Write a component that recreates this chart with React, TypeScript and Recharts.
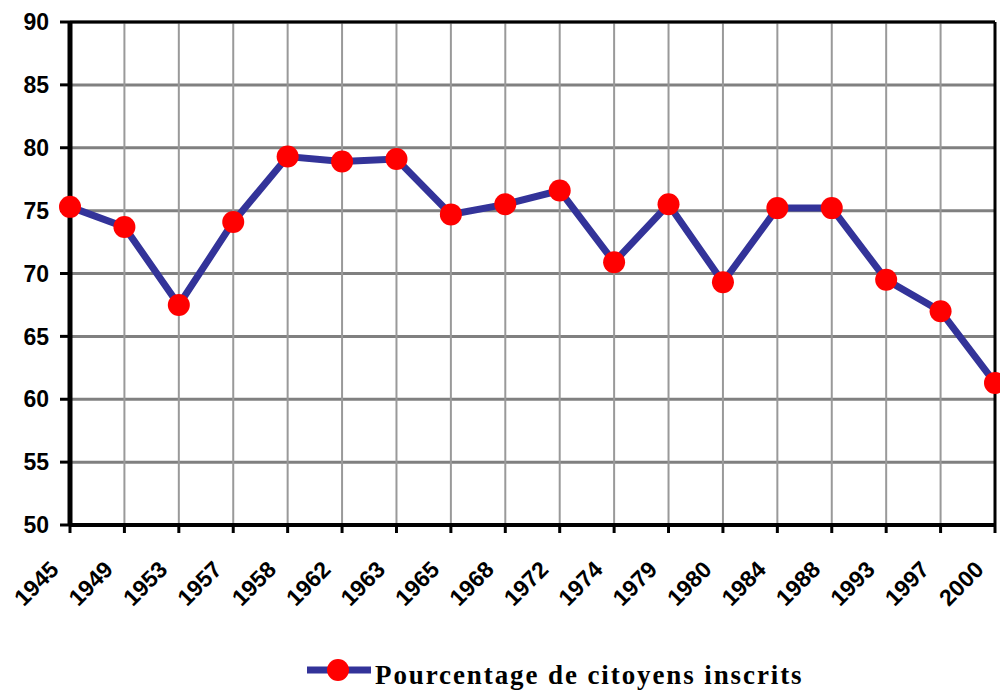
import React from 'react';
import { LineChart, Line, XAxis, YAxis, CartesianGrid, ReferenceLine, Legend } from 'recharts';

const years = ['1945','1949','1953','1957','1958','1962','1963','1965','1968','1972','1974','1979','1980','1984','1988','1993','1997','2000'];
const values = [75.3,73.7,67.5,74.1,79.3,78.9,79.1,74.7,75.5,76.6,70.9,75.5,69.3,75.2,75.2,69.5,67.0,61.3];
const yTicks = [50,55,60,65,70,75,80,85,90];
const seriesName = 'Pourcentage de citoyens inscrits';

const data = years.map((y, i) => ({ year: y, value: values[i] }));

const XTick = (props: any) => {
  const { x, payload } = props;
  return (
    <g transform={`translate(${x - 10},${571})`}>
      <text x={0} y={0} textAnchor="end" transform="rotate(-45)"
        fontFamily="'Liberation Sans', Arial, sans-serif" fontWeight="bold" fontSize={23} fill="#000">
        {payload.value}
      </text>
    </g>
  );
};

const LegendContent = () => (
  <div style={{ display: 'flex', alignItems: 'center', height: 30 }}>
    <svg width={68} height={30}>
      <line x1={2} y1={15} x2={66} y2={15} stroke="#333399" strokeWidth={7} />
      <circle cx={33} cy={15} r={11} fill="#ff0000" />
    </svg>
    <span style={{ fontFamily: "'Liberation Serif', 'Times New Roman', serif", fontWeight: 'bold', fontSize: 27, letterSpacing: 1.9, color: '#000', marginLeft: 2, lineHeight: '30px', position: 'relative', top: 5 }}>
      {seriesName}
    </span>
  </div>
);

export default function App() {
  return (
    <div style={{ position: 'absolute', left: 0, top: 0, width: 1000, height: 690, background: '#fff' }}>
      <LineChart width={1000} height={690} data={data} margin={{ top: 22, right: 5, bottom: 55, left: 10 }}>
        <CartesianGrid vertical={false} stroke="#808080" strokeWidth={3} />
        <CartesianGrid horizontal={false} stroke="#999999" strokeWidth={2} />
        <XAxis dataKey="year" interval={0} height={80} axisLine={{ stroke: '#000', strokeWidth: 4 }}
          tickLine={{ stroke: '#000', strokeWidth: 3 }} tickSize={8} tick={<XTick />} />
        <YAxis domain={[50, 90]} ticks={yTicks} width={60} interval={0}
          axisLine={{ stroke: '#000', strokeWidth: 5 }} tickLine={{ stroke: '#000', strokeWidth: 3 }}
          tickSize={10} tickMargin={11}
          tick={{ fill: '#000', fontSize: 23, fontWeight: 'bold', fontFamily: "'Liberation Sans', Arial, sans-serif" }} />
        <ReferenceLine y={90} stroke="#000" strokeWidth={3} />
        <ReferenceLine x="2000" stroke="#000" strokeWidth={3} />
        <Line type="linear" dataKey="value" name={seriesName} stroke="#333399" strokeWidth={7}
          dot={{ r: 11, fill: '#ff0000', stroke: 'none' }} activeDot={false} isAnimationActive={false} />
        <Legend content={<LegendContent />} wrapperStyle={{ position: 'absolute', left: 305, top: 655, width: 600, height: 30 }} />
      </LineChart>
    </div>
  );
}
